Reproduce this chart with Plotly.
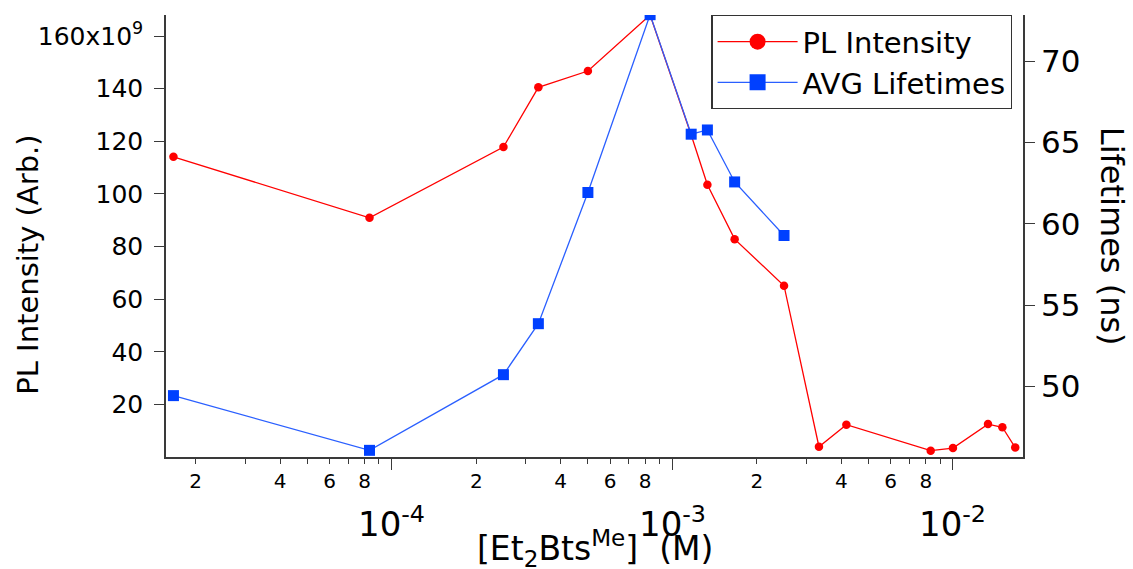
import numpy as np
import plotly.graph_objects as go

# concentrations (M)
conc = [1.667e-5, 8.33e-5, 2.5e-4, 3.33e-4, 5.0e-4, 8.33e-4, 1.167e-3, 1.333e-3,
        1.667e-3, 2.5e-3, 3.33e-3, 4.17e-3, 8.33e-3, 1.0e-2, 1.333e-2, 1.5e-2, 1.667e-2]
# PL intensity (x1e9, arb.)
pl_intensity = [114.1, 90.9, 117.8, 140.5, 146.7, 168.0, 122.4, 103.5,
                82.8, 65.1, 3.9, 12.3, 2.4, 3.4, 12.5, 11.3, 3.6]
# average lifetimes (ns), measured for first 10 concentrations
conc_life = [1.667e-5, 8.33e-5, 2.5e-4, 3.33e-4, 5.0e-4, 8.33e-4, 1.167e-3, 1.333e-3,
             1.667e-3, 2.5e-3]
lifetimes = [49.42, 46.05, 50.71, 53.85, 61.93, 72.88, 65.52, 65.78, 62.58, 59.28]

left_ticks = [20, 40, 60, 80, 100, 120, 140, 160]
left_ticktext = ["20", "40", "60", "80", "100", "120", "140", "160x10<sup>9</sup>"]
right_ticks = [50, 55, 60, 65, 70]
decades = [1e-4, 1e-3, 1e-2]
decade_labels = ["10<sup>-4</sup>", "10<sup>-3</sup>", "10<sup>-2</sup>"]

FONT = "DejaVu Sans"
RED = "#ff0000"
BLUE = "#0040ff"
BLUE_LINE = "#2a5fff"
AX = "#3a3a3a"

SCALE = 1e9
pl_vals = [v * SCALE for v in pl_intensity]

# minor ticks with labels 2,4,6,8
minor_vals, minor_text = [], []
for d in [1e-5, 1e-4, 1e-3]:
    for m in range(2, 10):
        v = m * d
        if v < 0.0178:
            minor_vals.append(v)
            minor_text.append(str(m) if m % 2 == 0 else "")

fig = go.Figure()
fig.add_trace(go.Scatter(x=conc, y=pl_vals, mode="lines+markers", name="PL Intensity",
                         line=dict(color=RED, width=1.3),
                         marker=dict(color=RED, size=8.5, symbol="circle"),
                         showlegend=False, yaxis="y"))
fig.add_trace(go.Scatter(x=conc_life, y=lifetimes, mode="lines+markers", name="AVG Lifetimes",
                         line=dict(color=BLUE_LINE, width=1.3),
                         marker=dict(color=BLUE, size=11, symbol="square"),
                         showlegend=False, yaxis="y2"))
# legend entries with larger symbols
fig.add_trace(go.Scatter(x=[None], y=[None], mode="lines+markers", name="PL Intensity",
                         line=dict(color=RED, width=1.3),
                         marker=dict(color=RED, size=16, symbol="circle")))
fig.add_trace(go.Scatter(x=[None], y=[None], mode="lines+markers", name="AVG Lifetimes",
                         line=dict(color=BLUE_LINE, width=1.3),
                         marker=dict(color=BLUE, size=16, symbol="square"), yaxis="y2"))

annotations = []
for d, lab in zip(decades, decade_labels):
    annotations.append(dict(x=np.log10(d), xref="x", y=-0.148, yref="paper",
                            text=lab, showarrow=False, xanchor="center", yanchor="middle",
                            font=dict(family=FONT, size=34, color="black")))
annotations.append(dict(x=0.5, xref="paper", y=-0.207, yref="paper",
                        text="[Et<sub>2</sub>Bts<sup>Me</sup>]  (M)", showarrow=False,
                        xanchor="center", yanchor="middle",
                        font=dict(family=FONT, size=33, color="black")))
annotations.append(dict(x=-0.161, xref="paper", y=0.435, yref="paper",
                        text="PL Intensity (Arb.)", showarrow=False, textangle=-90,
                        xanchor="center", yanchor="middle",
                        font=dict(family=FONT, size=29, color="black")))
annotations.append(dict(x=1.104, xref="paper", y=0.50, yref="paper",
                        text="Lifetimes (ns)", showarrow=False, textangle=90,
                        xanchor="center", yanchor="middle",
                        font=dict(family=FONT, size=32, color="black")))

fig.update_layout(
    width=1133, height=569,
    margin=dict(l=166, r=110, t=15, b=112),
    paper_bgcolor="white", plot_bgcolor="white",
    font=dict(family=FONT, color="black"),
    xaxis=dict(type="log", range=[-4.8046, -1.7504], showgrid=False, zeroline=False,
               automargin=False,
               showline=True, linecolor=AX, linewidth=1.5,
               tickmode="array", tickvals=minor_vals, ticktext=minor_text,
               ticks="outside", ticklen=5, tickwidth=1.3, tickcolor=AX,
               tickfont=dict(family=FONT, size=20, color="black"),
               minor=dict(tickmode="array", tickvals=decades, ticks="outside",
                          ticklen=11, tickwidth=1.3, tickcolor=AX, showgrid=False)),
    yaxis=dict(range=[0, 168 * SCALE], showgrid=False, zeroline=False, automargin=False,
               showline=True, linecolor=AX, linewidth=1.5,
               tickmode="array", tickvals=[v * SCALE for v in left_ticks], ticktext=left_ticktext,
               ticks="outside", ticklen=10, tickwidth=1.3, tickcolor=AX,
               ticklabelstandoff=6,
               tickfont=dict(family=FONT, size=25, color="black")),
    yaxis2=dict(range=[45.64, 72.86], overlaying="y", side="right", showgrid=False,
                zeroline=False, showline=True, linecolor=AX, linewidth=1.5, automargin=False,
                tickmode="array", tickvals=right_ticks,
                ticks="outside", ticklen=10, tickwidth=1.3, tickcolor=AX,
                tickfont=dict(family=FONT, size=31, color="black")),
    legend=dict(x=0.9875, xanchor="right", y=1.0, yanchor="top",
                bordercolor="#333333", borderwidth=1.3, bgcolor="white",
                font=dict(family=FONT, size=29, color="black"),
                tracegroupgap=0, itemwidth=80),
    annotations=annotations,
)

fig.write_html("out.html", config={"displayModeBar": False},
               post_script="document.body.style.margin='0';")
